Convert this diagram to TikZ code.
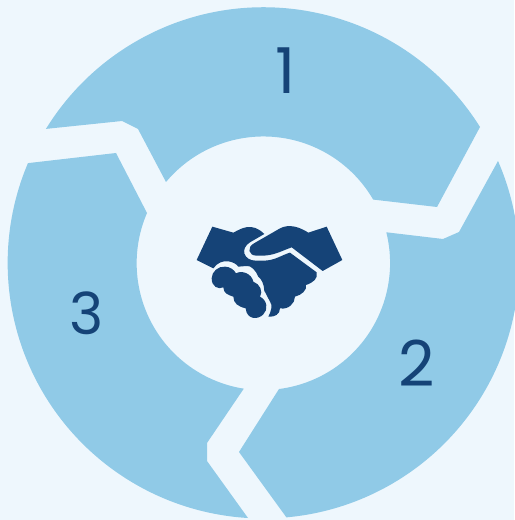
\documentclass[tikz,border=0pt]{standalone}
\usepackage{fontspec}
\setmainfont{Poppins}
\definecolor{pagebg}{HTML}{EEF7FD}
\definecolor{ringblue}{HTML}{90CAE7}
\definecolor{navy}{HTML}{154377}
\tikzset{
    digit/.style={text=navy, font=\fontsize{36}{36}\selectfont, inner sep=0pt},
}

\begin{document}
\begin{tikzpicture}[x=0.02cm, y=-0.02cm, line join=round]
    \def\outerrad{255.5}
    \def\innerrad{127}

    \useasboundingbox (0,0) rectangle (514,520);
    \fill[pagebg] (0,0) rectangle (514,520);

    % three ring pieces
    \fill[ringblue]
        (480,127) arc[start angle=-32.1, end angle=-148.4, radius=\outerrad]
        -- (122,121) -- (138,129) -- (166,182)
        arc[start angle=-140.1, end angle=-30.2, radius=\innerrad]
        -- (437,207) -- cycle;
    \fill[ringblue]
        (498,161) arc[start angle=-23.5, end angle=84.9, radius=\outerrad]
        -- (239,452) -- (279,389)
        arc[start angle=82.8, end angle=-14, radius=\innerrad]
        -- (443,239) -- (459,232) -- cycle;
    \fill[ringblue]
        (248,518) arc[start angle=93.4, end angle=203, radius=\outerrad]
        -- (116,153) -- (147,213)
        arc[start angle=203.3, end angle=99, radius=\innerrad]
        -- (207,443) -- (207,461) -- cycle;

    \node[digit] (label1) at (286,71) {1};
    \node[digit] (label2) at (417,363) {2};
    \node[digit, font=\fontsize{33}{33}\selectfont] (label3) at (87,313) {3};

    % handshake
    \begin{scope}[shift={(180,210)}, scale=0.3333]
        \fill[navy] (440,50) -- (487,150) -- (428,183) -- (335,112)
            .. controls (300,125) and (280,137) .. (245,137) -- (230,137)
            .. controls (205,137) and (200,112) .. (222,100) -- (295,58)
            .. controls (315,45) and (345,42) .. (385,68) -- cycle;
        \fill[navy] (97,50) -- (160,68)
            .. controls (185,55) and (215,35) .. (253,72) -- (210,97)
            .. controls (180,115) and (190,152) .. (228,152) -- (250,152)
            .. controls (285,152) and (305,135) .. (330,128) -- (410,187)
            .. controls (415,205) and (400,218) .. (378,225)
            .. controls (382,240) and (365,255) .. (345,260)
            .. controls (345,280) and (325,300) .. (300,295)
            .. controls (300,312) and (285,322) .. (265,320)
            .. controls (275,300) and (278,285) .. (270,275)
            .. controls (262,260) and (258,250) .. (253,243)
            .. controls (252,222) and (245,208) .. (235,200)
            .. controls (228,182) and (212,165) .. (200,168)
            -- (175,170)
            .. controls (165,155) and (125,140) .. (100,175)
            -- (50,150) -- cycle;
        \fill[navy] (95,205)
            .. controls (95,185) and (115,168) .. (135,170)
            .. controls (150,170) and (163,180) .. (168,190)
            .. controls (185,180) and (215,190) .. (220,215)
            .. controls (240,222) and (250,245) .. (240,260)
            .. controls (262,270) and (265,300) .. (250,313)
            .. controls (235,330) and (200,330) .. (197,295)
            .. controls (175,290) and (160,280) .. (160,260)
            .. controls (145,255) and (130,250) .. (130,232)
            .. controls (115,240) and (95,230) .. (95,205) -- cycle;
    \end{scope}
\end{tikzpicture}
\end{document}
